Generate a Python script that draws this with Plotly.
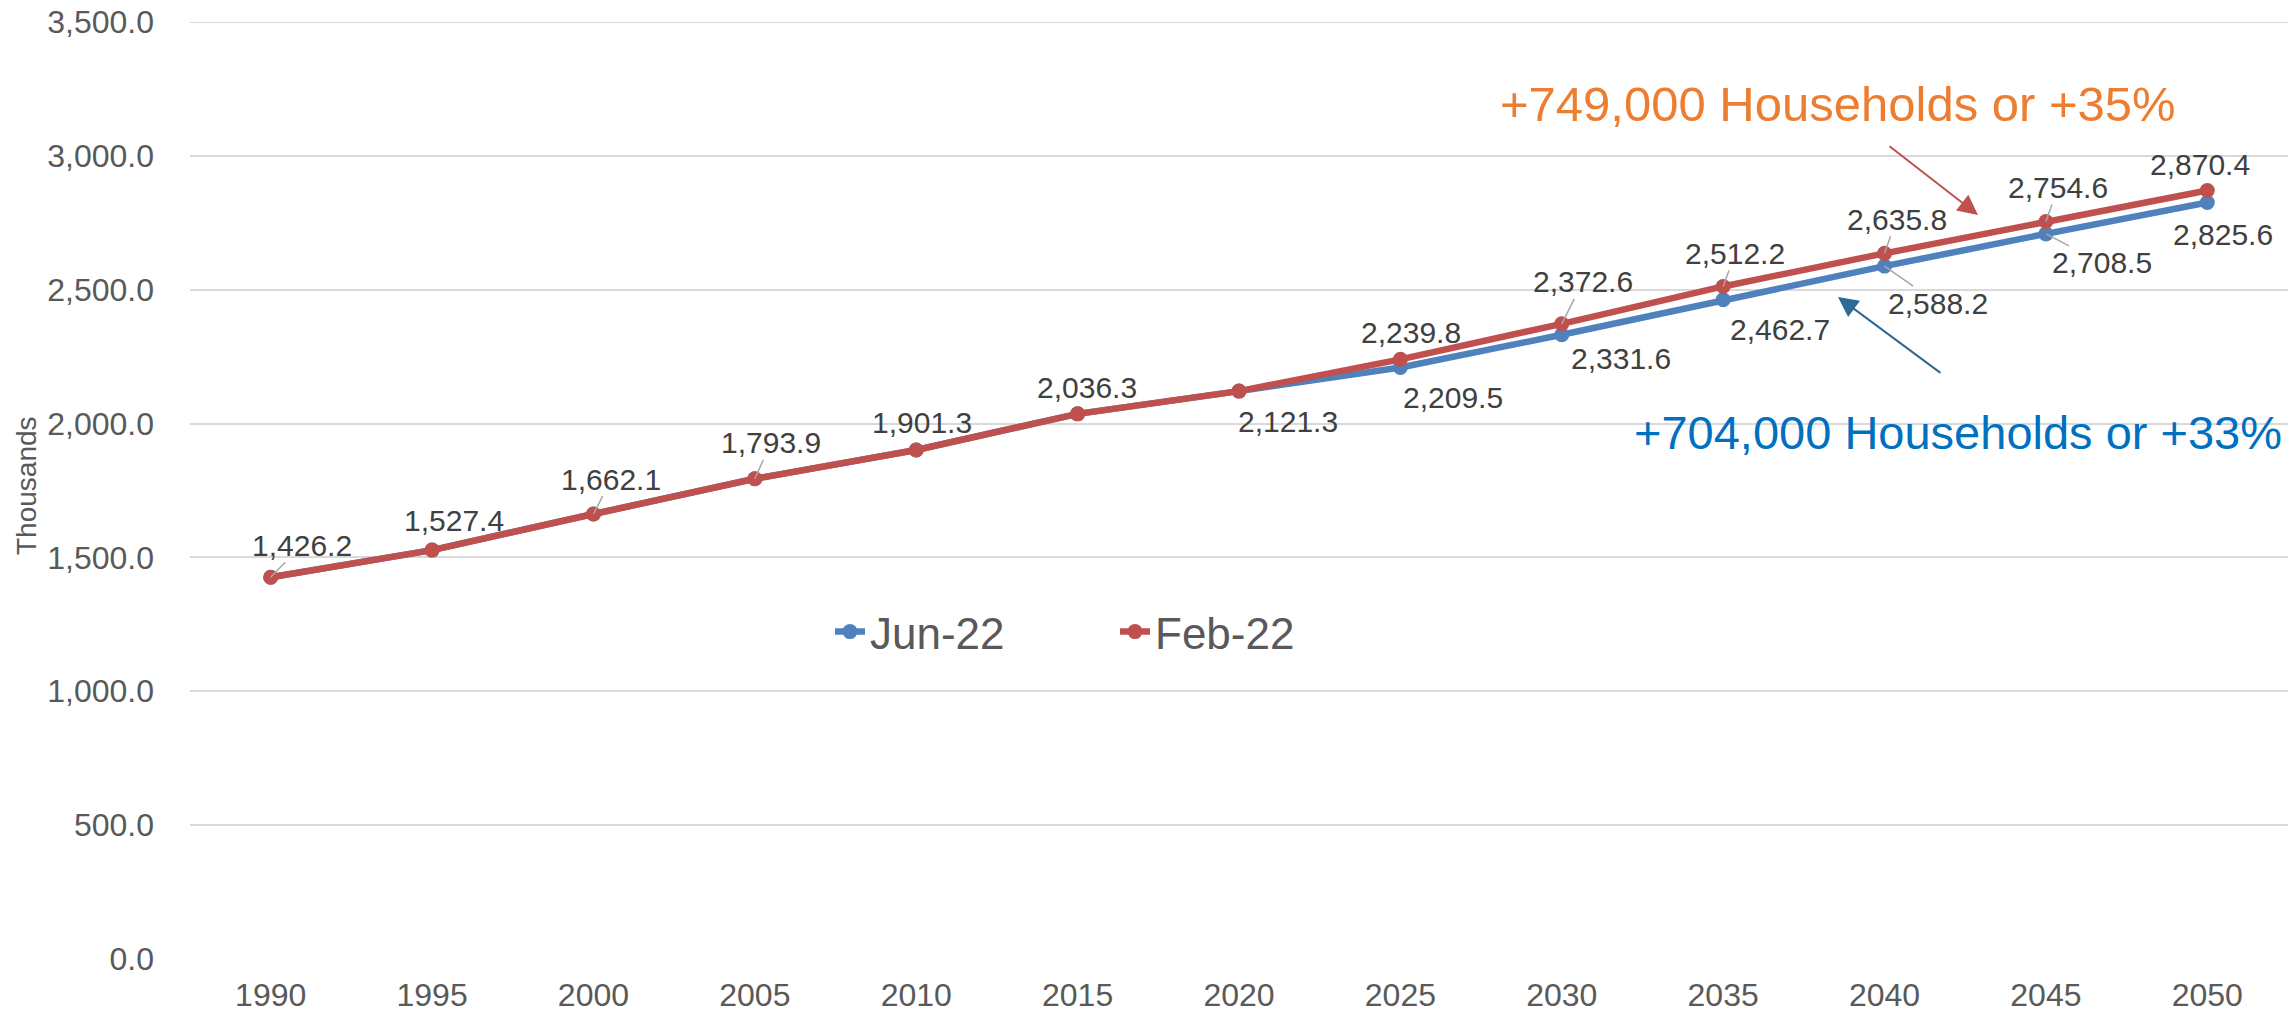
import plotly.graph_objects as go

# ---- data ----
years = ["1990", "1995", "2000", "2005", "2010", "2015", "2020",
         "2025", "2030", "2035", "2040", "2045", "2050"]
feb22 = [1426.2, 1527.4, 1662.1, 1793.9, 1901.3, 2036.3, 2121.3,
         2239.8, 2372.6, 2512.2, 2635.8, 2754.6, 2870.4]
jun22 = [1426.2, 1527.4, 1662.1, 1793.9, 1901.3, 2036.3, 2121.3,
         2209.5, 2331.6, 2462.7, 2588.2, 2708.5, 2825.6]
y_ticks = [0, 500, 1000, 1500, 2000, 2500, 3000, 3500]
note_feb = "+749,000 Households or +35%"
note_jun = "+704,000 Households or +33%"

# ---- label placement (pixel offsets from the point; None = no label) ----
feb_off = [(31, -32), (22, -30), (18, -35), (16, -36), (6, -27), (9, -26), None,
           (11, -27), (21, -42), (12, -33), (12, -34), (12, -34), (-7, -26)]
feb_lead = [True, False, True, True, False, False, False,
            False, True, True, True, True, False]
jun_off = [None, None, None, None, None, None, (49, 30),
           (53, 30), (59, 24), (57, 30), (53, 37), (56, 29), (16, 32)]
jun_lead = [False] * 10 + [True, True, False]

W, H = 2296, 1016
PL, PR, PT, PB = 190, 2288, 22, 959          # plot box in screen pixels
L, R, T, B = PL, W - PR, PT, H - PB
PW, PH = PR - PL, PB - PT

def px_x(p):
    return (p - PL) / PW

def px_y(p):
    return (PB - p) / PH

RED = "#C0504D"
BLUE = "#4F81BD"
LBL = "#404040"
TXT = "#595959"
GRID = "#D9D9D9"
FONT = "Liberation Sans, Arial, sans-serif"

fig = go.Figure()
fig.add_trace(go.Scatter(x=years, y=jun22, name="Jun-22", mode="lines+markers",
                         line=dict(color=BLUE, width=6.5),
                         marker=dict(color=BLUE, size=15)))
fig.add_trace(go.Scatter(x=years, y=feb22, name="Feb-22", mode="lines+markers",
                         line=dict(color=RED, width=6.5),
                         marker=dict(color=RED, size=15)))

ann = []
def add_labels(vals, offs, leads):
    for i, (yv, off, lead) in enumerate(zip(vals, offs, leads)):
        if off is None:
            continue
        dx, dy = off
        txt = f"{yv:,.1f}"
        if lead:
            ann.append(dict(x=i, y=yv, xref="x", yref="y", text=txt,
                            showarrow=True, ax=dx, ay=dy, arrowhead=0,
                            arrowwidth=1.5, arrowcolor="#A6A6A6", standoff=0,
                            borderpad=0,
                            font=dict(family=FONT, size=30, color=LBL)))
        else:
            ann.append(dict(x=i, y=yv, xref="x", yref="y", text=txt,
                            showarrow=False, xshift=dx, yshift=-dy,
                            font=dict(family=FONT, size=30, color=LBL)))

add_labels(feb22, feb_off, feb_lead)
add_labels(jun22, jun_off, jun_lead)

# callout texts
ann.append(dict(x=px_x(1838), y=px_y(104), xref="paper", yref="paper",
                xanchor="center", yanchor="middle",
                text=note_feb, showarrow=False,
                font=dict(family=FONT, size=49, color="#ED7D31")))
ann.append(dict(x=px_x(1958), y=px_y(432), xref="paper", yref="paper",
                xanchor="center", yanchor="middle",
                text=note_jun, showarrow=False,
                font=dict(family=FONT, size=47, color="#0070C0")))
# callout arrows
ann.append(dict(x=px_x(1978), y=px_y(215), xref="paper", yref="paper", text="",
                showarrow=True, ax=1888 - 1978, ay=145 - 215, arrowhead=2,
                arrowsize=2, arrowwidth=2, arrowcolor="#C0504D", standoff=0))
ann.append(dict(x=px_x(1838), y=px_y(297), xref="paper", yref="paper", text="",
                showarrow=True, ax=1942 - 1838, ay=374 - 297, arrowhead=2,
                arrowsize=2, arrowwidth=2, arrowcolor="#2E6A98", standoff=0))
# axis title
ann.append(dict(x=px_x(27), y=px_y(486), xref="paper", yref="paper",
                xanchor="center", yanchor="middle", textangle=-90,
                text="Thousands", showarrow=False,
                font=dict(family=FONT, size=28, color=TXT)))

fig.update_layout(
    width=W, height=H,
    margin=dict(l=L, r=R, t=T, b=B, pad=0, autoexpand=False),
    paper_bgcolor="white", plot_bgcolor="white",
    font=dict(family=FONT, color=TXT),
    annotations=ann,
    shapes=[dict(type="line", xref="paper", x0=0, x1=1, yref="y",
                 y0=y_ticks[-1], y1=y_ticks[-1], layer="below",
                 line=dict(color=GRID, width=2))],
    showlegend=True,
    legend=dict(orientation="h", x=px_x(830), y=px_y(632),
                xanchor="left", yanchor="middle",
                font=dict(family=FONT, size=44, color=TXT),
                bgcolor="rgba(0,0,0,0)", entrywidth=240, entrywidthmode="pixels",
                traceorder="normal"),
)
fig.update_xaxes(type="category", range=[-0.5, 12.5], showgrid=False,
                 zeroline=False, showline=False, ticks="", automargin=False,
                 ticklabelstandoff=14, ticklabeloverflow="allow",
                 tickfont=dict(family=FONT, size=32, color=TXT))
fig.update_yaxes(range=[0, 3500], tickvals=y_ticks, tickformat=",.1f",
                 showgrid=True, gridcolor=GRID, gridwidth=2,
                 zeroline=False, showline=False, ticks="", automargin=False,
                 ticklabelstandoff=35, ticklabeloverflow="allow",
                 tickfont=dict(family=FONT, size=32, color=TXT))

fig.write_html("out.html",
               config={"displayModeBar": False},
               post_script="document.body.style.margin='0';"
                           "document.body.style.overflow='hidden';")
